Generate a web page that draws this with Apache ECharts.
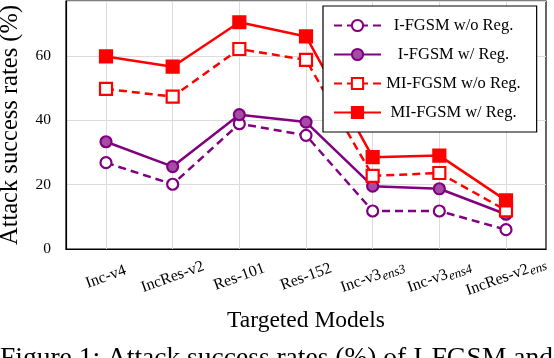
<!DOCTYPE html>
<html>
<head>
<meta charset="utf-8">
<script src="https://cdn.jsdelivr.net/npm/echarts@6/dist/echarts.min.js"></script>
<style>
  html, body { margin: 0; padding: 0; background: #fff; }
  #main { width: 554px; height: 358px; }
</style>
</head>
<body>
<div id="main"></div>
<script>
// model names (base part + italic subscript)
const models = ['Inc-v4', 'IncRes-v2', 'Res-101', 'Res-152', 'Inc-v3', 'Inc-v3', 'IncRes-v2']
const modelSubs = ['', '', '', '', 'ens3', 'ens4', 'ens']

const iFgsmNoReg = [26.8, 20.1, 38.9, 35.3, 11.8, 11.8, 6.0]
const iFgsmReg = [33.3, 25.6, 41.7, 39.4, 19.5, 18.7, 10.8]
const miFgsmNoReg = [49.7, 47.3, 62.1, 58.7, 22.7, 23.6, 12.0]
const miFgsmReg = [59.8, 56.6, 70.4, 66.0, 28.5, 29.0, 15.1]

const yTicks = [0, 20, 40, 60]
const xTicks = [0, 1, 2, 3, 4, 5, 6]

const serif = '"Liberation Serif", "Times New Roman", serif'
const purple = '#800080'
const red = '#ff0000'

const toPoints = arr => arr.map((v, i) => [i, v])

let chart = echarts.init(document.getElementById('main'))

let option = {
    animation: false,
    backgroundColor: '#fff',
    textStyle: { fontFamily: serif, color: '#000' },
    grid: {
        left: 66, right: 8, top: 1, bottom: 109,
        outerBoundsMode: 'none',
        containLabel: false,
        show: true, borderColor: '#000', borderWidth: 1.2
    },
    legend: {
        orient: 'vertical',
        left: 323, top: 6,
        padding: [11, 16, 11, 10],
        backgroundColor: '#fff',
        borderColor: '#000',
        borderWidth: 1.2,
        itemWidth: 47,
        itemHeight: 14,
        itemGap: 12,
        formatter: name => '{c|' + name + '}',
        textStyle: {
            fontFamily: serif, fontSize: 16.5, color: '#000',
            rich: { c: { width: 135, align: 'center', fontFamily: serif, fontSize: 16.5, color: '#000' } }
        },
        data: ['I-FGSM w/o Reg.', 'I-FGSM w/ Reg.', 'MI-FGSM w/o Reg.', 'MI-FGSM w/ Reg.']
    },
    xAxis: {
        type: 'value',
        min: -0.6, max: 6.6,
        name: 'Targeted Models',
        nameLocation: 'middle',
        nameGap: 60,
        nameTextStyle: { fontFamily: serif, fontSize: 23.5, color: '#000' },
        axisLine: { show: true, onZero: false, lineStyle: { color: '#000', width: 1.2 } },
        axisTick: { show: false, customValues: xTicks },
        splitLine: { show: true, lineStyle: { color: '#dcdcdc', width: 1 } },
        axisLabel: {
            customValues: xTicks,
            rotate: 20,
            align: 'center',
            verticalAlign: 'middle',
            margin: 28,
            fontFamily: serif,
            fontSize: 16,
            color: '#000',
            formatter: function (v) {
                let i = Math.round(v)
                let s = '{b|' + models[i] + '}'
                if (modelSubs[i]) s += '{s|' + modelSubs[i] + '}'
                return s
            },
            rich: {
                b: { fontFamily: serif, fontSize: 16, color: '#000' },
                s: { fontFamily: serif, fontSize: 13, fontStyle: 'italic', color: '#000', padding: [7, 0, 0, 1] }
            }
        }
    },
    yAxis: {
        type: 'value',
        min: 0, max: 77, interval: 20,
        name: 'Attack success rates (%)',
        nameLocation: 'middle',
        nameGap: 43,
        nameTextStyle: { fontFamily: serif, fontSize: 24.5, color: '#000' },
        axisLine: { show: true, onZero: false, lineStyle: { color: '#000', width: 1.2 } },
        axisTick: { show: false },
        splitLine: { show: true, lineStyle: { color: '#dcdcdc', width: 1 } },
        axisLabel: { customValues: yTicks, fontFamily: serif, fontSize: 15.5, color: '#000', margin: 15 }
    },
    graphic: [{
        type: 'text',
        left: 0, top: 345,
        style: {
            text: 'Figure 1: Attack success rates (%) of I-FGSM and',
            fontFamily: serif, fontSize: 27.5, fill: '#000'
        }
    }],
    series: [
        {
            name: 'I-FGSM w/o Reg.', type: 'line',
            data: toPoints(iFgsmNoReg),
            symbol: 'circle', symbolSize: 11,
            lineStyle: { color: purple, width: 2.5, type: [8, 5] },
            itemStyle: { color: '#fff', borderColor: purple, borderWidth: 2.2 }
        },
        {
            name: 'I-FGSM w/ Reg.', type: 'line',
            data: toPoints(iFgsmReg),
            symbol: 'circle', symbolSize: 11,
            lineStyle: { color: purple, width: 2.5 },
            itemStyle: { color: '#a64ca6', borderColor: purple, borderWidth: 2.2 }
        },
        {
            name: 'MI-FGSM w/o Reg.', type: 'line',
            data: toPoints(miFgsmNoReg),
            symbol: 'rect', symbolSize: 12,
            lineStyle: { color: red, width: 2.5, type: [8, 5] },
            itemStyle: { color: '#fff', borderColor: red, borderWidth: 2.2 }
        },
        {
            name: 'MI-FGSM w/ Reg.', type: 'line',
            data: toPoints(miFgsmReg),
            symbol: 'rect', symbolSize: 12,
            lineStyle: { color: red, width: 2.5 },
            itemStyle: { color: red, borderColor: red, borderWidth: 2.2 }
        }
    ]
}

chart.setOption(option)
</script>
</body>
</html>
